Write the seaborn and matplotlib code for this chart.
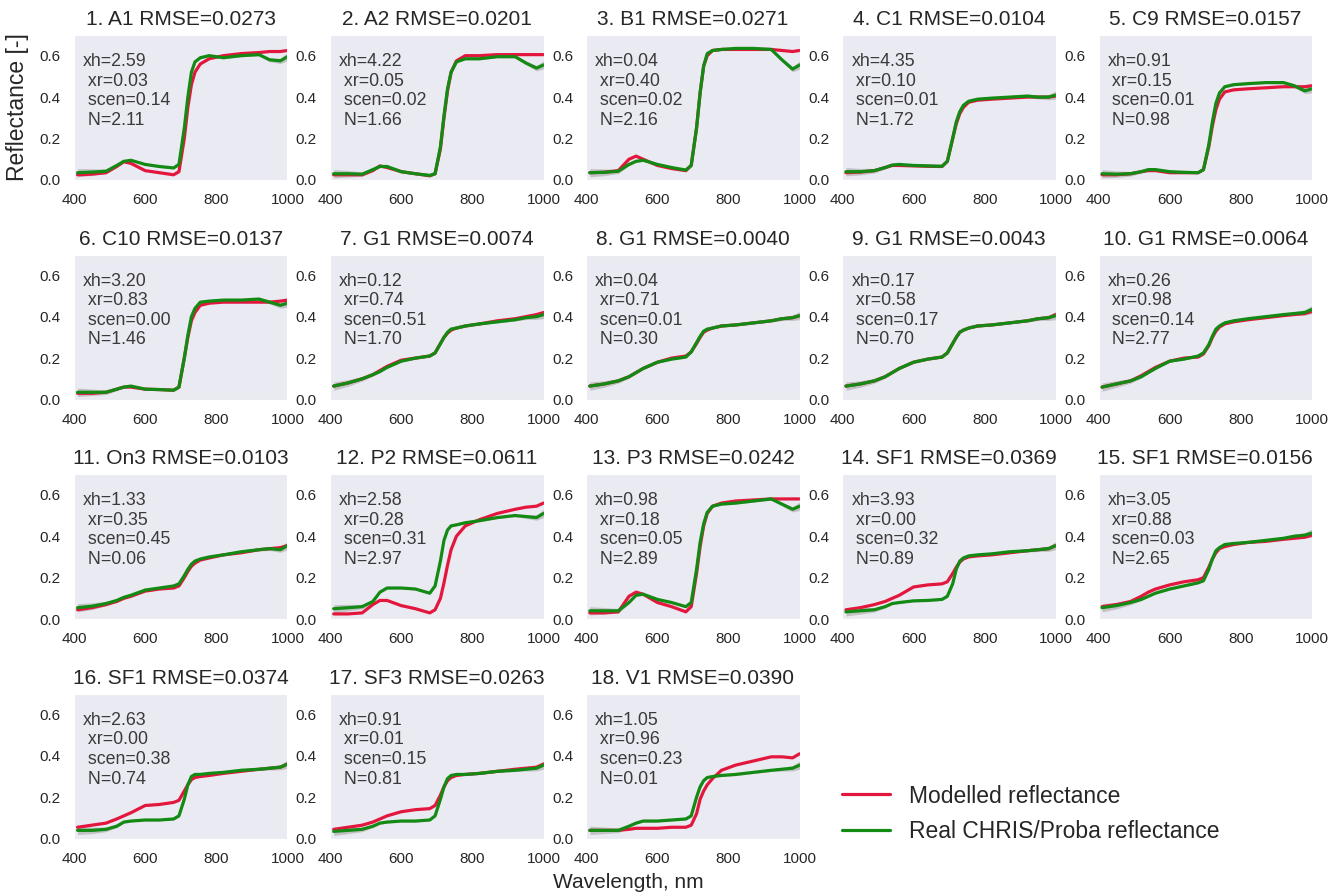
import numpy as np
import pandas as pd
import matplotlib
matplotlib.use('Agg')
import matplotlib.pyplot as plt
import seaborn as sns

wl = [410, 450, 490, 520, 540, 560, 600, 640, 680, 695, 710, 720, 730, 740, 755, 780, 820, 870, 920, 950, 980, 1000]

titles = ['1. A1 RMSE=0.0273', '2. A2 RMSE=0.0201', '3. B1 RMSE=0.0271', '4. C1 RMSE=0.0104',
          '5. C9 RMSE=0.0157', '6. C10 RMSE=0.0137', '7. G1 RMSE=0.0074', '8. G1 RMSE=0.0040',
          '9. G1 RMSE=0.0043', '10. G1 RMSE=0.0064', '11. On3 RMSE=0.0103', '12. P2 RMSE=0.0611',
          '13. P3 RMSE=0.0242', '14. SF1 RMSE=0.0369', '15. SF1 RMSE=0.0156', '16. SF1 RMSE=0.0374',
          '17. SF3 RMSE=0.0263', '18. V1 RMSE=0.0390']

xh = [2.59, 4.22, 0.04, 4.35, 0.91, 3.20, 0.12, 0.04, 0.17, 0.26, 1.33, 2.58, 0.98, 3.93, 3.05, 2.63, 0.91, 1.05]
xr = [0.03, 0.05, 0.40, 0.10, 0.15, 0.83, 0.74, 0.71, 0.58, 0.98, 0.35, 0.28, 0.18, 0.00, 0.88, 0.00, 0.01, 0.96]
scen = [0.14, 0.02, 0.02, 0.01, 0.01, 0.00, 0.51, 0.01, 0.17, 0.14, 0.45, 0.31, 0.05, 0.32, 0.03, 0.38, 0.15, 0.23]
N = [2.11, 1.66, 2.16, 1.72, 0.98, 1.46, 1.70, 0.30, 0.70, 2.77, 0.06, 2.97, 2.89, 0.89, 2.65, 0.74, 0.81, 0.01]

# modelled reflectance, one list per panel
model = [
    [.025, .028, .035, .065, .088, .08, .045, .035, .025, .04, .2, .35, .46, .52, .56, .585, .60, .61, .615, .62, .62, .625],
    [.025, .025, .025, .045, .068, .06, .04, .03, .02, .03, .15, .30, .43, .52, .575, .60, .60, .605, .605, .605, .605, .605],
    [.035, .037, .045, .10, .115, .10, .07, .055, .045, .07, .25, .42, .55, .60, .625, .63, .63, .63, .63, .625, .62, .625],
    [.035, .038, .045, .06, .07, .07, .068, .066, .065, .09, .2, .27, .32, .35, .375, .385, .39, .395, .40, .40, .40, .405],
    [.025, .025, .03, .04, .045, .045, .035, .035, .035, .05, .16, .26, .34, .39, .425, .435, .44, .445, .45, .45, .45, .455],
    [.03, .03, .035, .05, .06, .06, .05, .048, .045, .06, .2, .30, .38, .42, .455, .465, .47, .47, .47, .47, .475, .48],
    [.065, .08, .10, .12, .14, .16, .19, .20, .21, .225, .27, .30, .32, .335, .345, .355, .365, .38, .39, .40, .41, .42],
    [.065, .075, .09, .11, .13, .15, .18, .20, .21, .23, .27, .30, .325, .335, .345, .355, .36, .37, .38, .39, .395, .405],
    [.065, .075, .09, .11, .13, .15, .18, .195, .205, .225, .27, .30, .325, .335, .345, .355, .36, .37, .38, .39, .395, .41],
    [.06, .075, .09, .115, .135, .155, .185, .20, .205, .22, .26, .30, .33, .35, .365, .375, .385, .395, .405, .41, .415, .425],
    [.045, .055, .07, .085, .10, .11, .135, .145, .15, .16, .20, .23, .255, .27, .285, .295, .31, .32, .335, .34, .345, .355],
    [.025, .025, .03, .07, .09, .09, .065, .05, .03, .045, .10, .175, .26, .335, .40, .45, .48, .51, .53, .54, .545, .56],
    [.03, .03, .035, .11, .13, .12, .08, .06, .035, .06, .22, .35, .45, .51, .545, .56, .57, .575, .58, .58, .58, .58],
    [.045, .055, .07, .085, .10, .115, .155, .165, .17, .18, .22, .25, .275, .29, .30, .305, .31, .32, .33, .335, .34, .355],
    [.06, .07, .085, .11, .13, .145, .165, .18, .19, .20, .25, .29, .32, .34, .35, .36, .37, .375, .385, .39, .395, .405],
    [.055, .065, .075, .095, .11, .125, .16, .165, .175, .185, .23, .26, .285, .295, .30, .305, .315, .325, .335, .34, .345, .36],
    [.045, .055, .065, .08, .095, .11, .13, .14, .145, .16, .21, .25, .28, .295, .305, .31, .315, .325, .335, .34, .345, .36],
    [.04, .04, .04, .045, .05, .05, .05, .055, .055, .065, .12, .19, .23, .26, .29, .33, .355, .375, .395, .395, .39, .41],
]

# real CHRIS/Proba reflectance, one list per panel
real = [
    [.035, .038, .042, .07, .09, .095, .075, .065, .058, .075, .25, .40, .52, .57, .59, .60, .59, .60, .605, .58, .575, .595],
    [.03, .03, .028, .05, .065, .065, .04, .03, .022, .03, .16, .31, .44, .52, .57, .585, .585, .595, .595, .565, .54, .555],
    [.035, .037, .042, .075, .09, .095, .075, .06, .048, .07, .25, .42, .55, .61, .625, .63, .635, .635, .63, .58, .535, .555],
    [.04, .04, .045, .06, .072, .075, .07, .068, .066, .09, .2, .28, .33, .36, .38, .39, .395, .40, .405, .40, .40, .41],
    [.03, .028, .03, .04, .05, .05, .04, .037, .035, .05, .17, .28, .37, .42, .45, .46, .465, .47, .47, .455, .43, .44],
    [.035, .035, .035, .05, .06, .065, .05, .048, .045, .06, .2, .31, .40, .44, .47, .475, .48, .48, .485, .47, .455, .465],
    [.065, .08, .10, .12, .135, .155, .185, .20, .21, .225, .27, .30, .325, .34, .345, .355, .365, .375, .385, .395, .40, .41],
    [.065, .075, .09, .11, .13, .15, .18, .195, .205, .23, .275, .305, .33, .34, .345, .355, .36, .37, .38, .39, .395, .405],
    [.065, .075, .09, .11, .13, .15, .18, .195, .205, .225, .27, .30, .325, .335, .345, .355, .36, .37, .38, .39, .395, .405],
    [.06, .075, .09, .11, .13, .15, .185, .195, .21, .225, .265, .305, .34, .355, .37, .38, .39, .40, .41, .415, .42, .435],
    [.055, .062, .075, .09, .105, .115, .14, .15, .16, .17, .21, .24, .265, .28, .29, .30, .31, .325, .335, .34, .335, .355],
    [.05, .055, .06, .085, .13, .15, .15, .145, .125, .16, .28, .38, .43, .45, .455, .465, .475, .49, .50, .495, .49, .51],
    [.04, .04, .04, .08, .115, .12, .095, .08, .06, .08, .24, .37, .46, .515, .545, .555, .56, .57, .58, .555, .53, .545],
    [.035, .04, .045, .06, .075, .08, .088, .09, .095, .11, .17, .24, .28, .295, .305, .31, .315, .325, .33, .335, .34, .355],
    [.055, .065, .08, .095, .11, .125, .145, .16, .175, .185, .24, .29, .33, .345, .36, .365, .37, .38, .39, .40, .405, .415],
    [.04, .04, .045, .06, .08, .085, .09, .09, .095, .11, .19, .26, .30, .31, .31, .315, .32, .33, .335, .34, .345, .36],
    [.035, .04, .045, .06, .075, .08, .085, .085, .09, .11, .19, .25, .29, .305, .31, .31, .315, .325, .33, .335, .34, .355],
    [.04, .04, .04, .06, .075, .085, .085, .09, .095, .11, .2, .25, .28, .295, .30, .305, .31, .32, .33, .335, .34, .355],
]

# half-width of the grey band around the measured spectrum
band = [.02, .016, .011, .007, .005, .004, .004, .004, .004, .005, .006, .006, .006, .006, .005, .005, .005, .005, .006, .009, .013, .02]

sns.set_style('dark')
plt.rcParams['font.family'] = ['Liberation Sans', 'DejaVu Sans']

fig, axes = plt.subplots(4, 5, figsize=(13.36, 8.96), dpi=100)
fig.subplots_adjust(left=0.0554, right=0.982, top=0.961, bottom=0.064, wspace=0.2, hspace=0.514)

red = '#e3173d'
green = '#138a13'

for i, ax in enumerate(axes.flat):
    if i >= len(titles):
        ax.axis('off')
        continue
    df = pd.DataFrame({'wl': wl, 'model': model[i], 'real': real[i]})
    lo = np.array(real[i]) - np.array(band)
    hi = np.array(real[i]) + np.array(band)
    ax.fill_between(wl, lo, hi, color='#a8a8a8', alpha=0.6, lw=0)
    sns.lineplot(data=df, x='wl', y='model', ax=ax, color=red, lw=2.3, label='Modelled reflectance')
    sns.lineplot(data=df, x='wl', y='real', ax=ax, color=green, lw=2.3, label='Real CHRIS/Proba reflectance')
    ax.get_legend().remove()
    ax.set_xlim(400, 1000)
    ax.set_ylim(0, 0.7)
    ax.set_xticks([400, 600, 800, 1000])
    ax.set_yticks([0.0, 0.2, 0.4, 0.6])
    ax.tick_params(labelsize=11, pad=6)
    ax.set_xlabel('')
    ax.set_ylabel('')
    ax.set_title(titles[i], fontsize=15, pad=7)
    ax.text(0.042, 0.875, f'xh={xh[i]:.2f}\n xr={xr[i]:.2f}\n scen={scen[i]:.2f}\n N={N[i]:.2f}',
            transform=ax.transAxes, va='top', ha='left', fontsize=12.8, color='#3a3a3a', linespacing=1.2)

axes[0, 0].set_ylabel('Reflectance [-]', fontsize=16.5, labelpad=8)
fig.text(0.47, 0.004, 'Wavelength, nm', ha='center', va='bottom', fontsize=15)

handles, labels = axes[0, 0].get_lines()[:2], ['Modelled reflectance', 'Real CHRIS/Proba reflectance']
fig.legend(handles, labels, loc='lower left', bbox_to_anchor=(0.615, 0.036), frameon=False,
           fontsize=16.5, handlelength=2.1, handletextpad=0.8, labelspacing=0.55)

fig.savefig('out.png', dpi=100)
